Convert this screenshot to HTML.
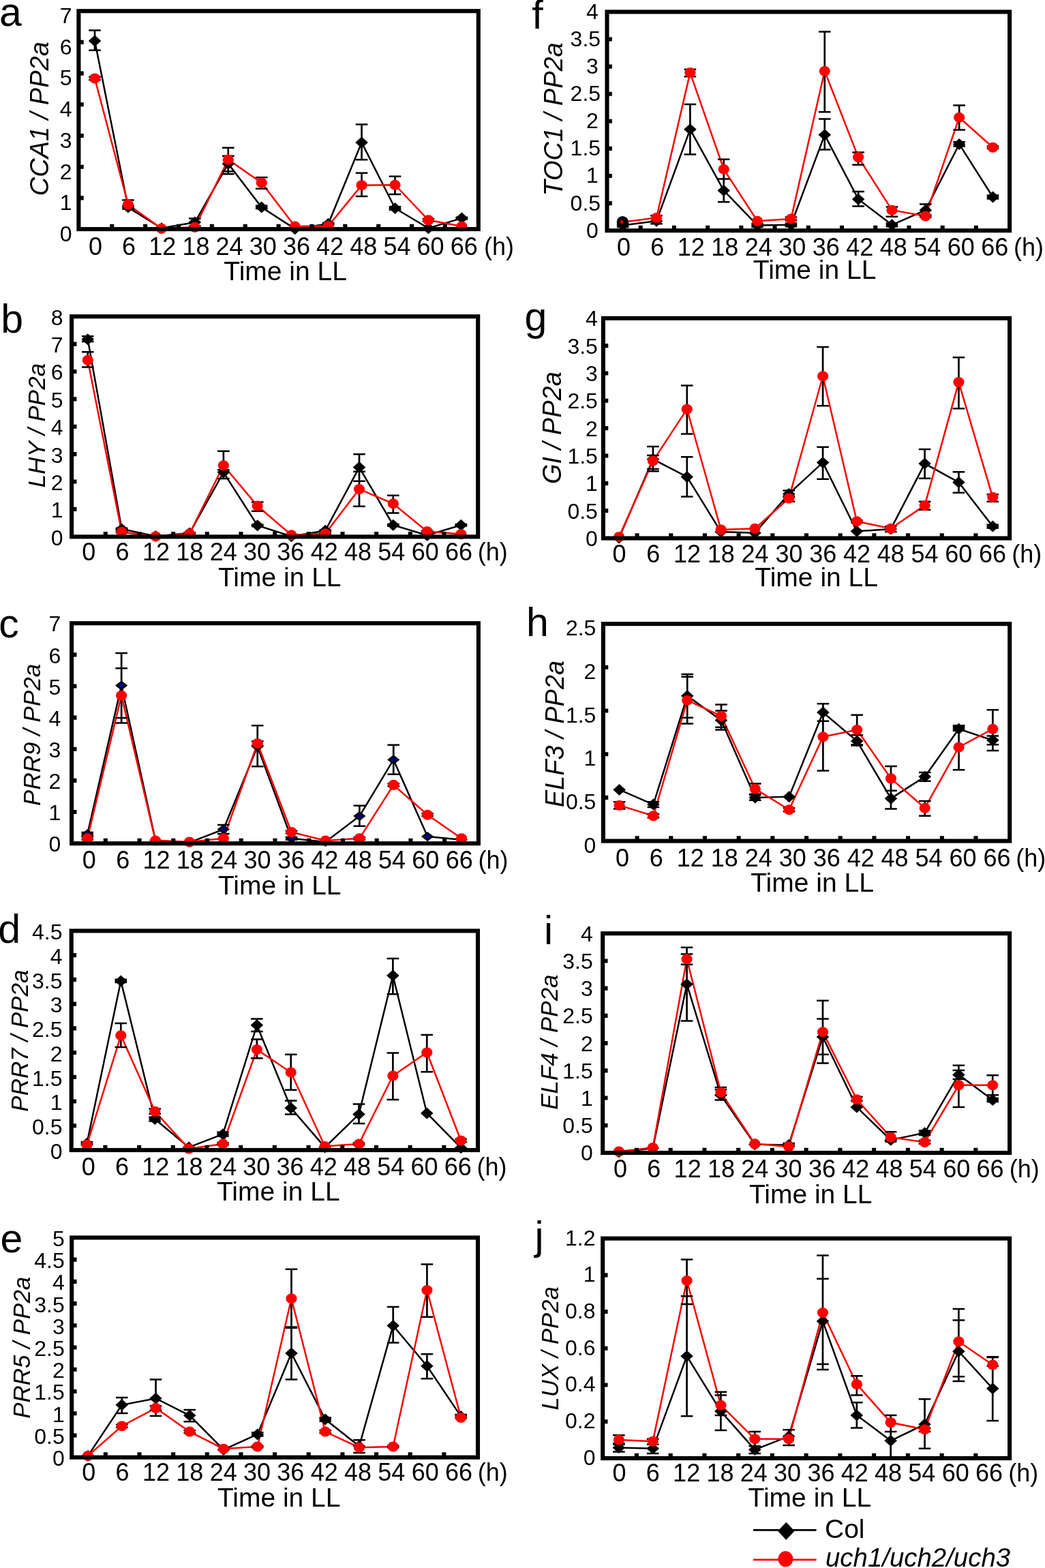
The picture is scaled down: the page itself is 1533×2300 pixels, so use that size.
<!DOCTYPE html>
<html><head><meta charset="utf-8"><title>Figure</title>
<style>html,body{margin:0;padding:0;background:#fff;}svg{display:block;}</style>
</head><body>
<svg xmlns="http://www.w3.org/2000/svg" width="1533" height="2300" viewBox="0 0 1533 2300" font-family="'Liberation Sans', Arial, sans-serif" fill="#000">
<g>
<polyline points="139.03,60.07 187.97,304.11 236.91,334.73 285.85,326.05 334.79,240.13 383.73,304.11 432.67,335.64 481.61,328.33 530.55,209.05 579.49,305.48 628.43,334.73 677.37,320.11" fill="none" stroke="#000" stroke-width="2.5" stroke-linejoin="miter"/>
<polyline points="139.03,114.91 187.97,300 236.91,335.19 285.85,333.36 334.79,234.19 383.73,268.01 432.67,331.99 481.61,331.53 530.55,271.66 579.49,271.21 628.43,322.85 677.37,331.99" fill="none" stroke="#f00" stroke-width="2.5" stroke-linejoin="miter"/>
<path d="M139.03 44.53V73.78M187.97 301.83V306.4M285.85 320.56V331.53M334.79 228.71V255.21M383.73 301.83V305.94M481.61 326.96V329.7M530.55 182.55V234.19M579.49 303.2V307.77M677.37 318.73V321.48M139.03 112.63V117.2M187.97 293.6V306.4M334.79 216.82V251.56M383.73 260.24V276.69M530.55 253.84V288.12M579.49 258.87V284.92M628.43 321.02V324.68" stroke="#000" stroke-width="2.7" fill="none"/>
<path d="M130.23 44.53H147.83M130.23 73.78H147.83M179.17 301.83H196.77M179.17 306.4H196.77M277.05 320.56H294.65M277.05 331.53H294.65M325.99 228.71H343.59M325.99 255.21H343.59M374.93 301.83H392.53M374.93 305.94H392.53M472.81 326.96H490.41M472.81 329.7H490.41M521.75 182.55H539.35M521.75 234.19H539.35M570.69 303.2H588.29M570.69 307.77H588.29M668.57 318.73H686.17M668.57 321.48H686.17M130.23 112.63H147.83M130.23 117.2H147.83M179.17 293.6H196.77M179.17 306.4H196.77M325.99 216.82H343.59M325.99 251.56H343.59M374.93 260.24H392.53M374.93 276.69H392.53M521.75 253.84H539.35M521.75 288.12H539.35M570.69 258.87H588.29M570.69 284.92H588.29M619.63 321.02H637.23M619.63 324.68H637.23" stroke="#000" stroke-width="2.5" fill="none"/>
<path d="M129.73 60.07L139.03 51.57L148.33 60.07L139.03 68.57Z" fill="#000"/>
<path d="M178.67 304.11L187.97 295.61L197.27 304.11L187.97 312.61Z" fill="#000"/>
<path d="M227.61 334.73L236.91 326.23L246.21 334.73L236.91 343.23Z" fill="#000"/>
<path d="M276.55 326.05L285.85 317.55L295.15 326.05L285.85 334.55Z" fill="#000"/>
<path d="M325.49 240.13L334.79 231.63L344.09 240.13L334.79 248.63Z" fill="#000"/>
<path d="M374.43 304.11L383.73 295.61L393.03 304.11L383.73 312.61Z" fill="#000"/>
<path d="M423.37 335.64L432.67 327.14L441.97 335.64L432.67 344.14Z" fill="#000"/>
<path d="M472.31 328.33L481.61 319.83L490.91 328.33L481.61 336.83Z" fill="#000"/>
<path d="M521.25 209.05L530.55 200.55L539.85 209.05L530.55 217.55Z" fill="#000"/>
<path d="M570.19 305.48L579.49 296.98L588.79 305.48L579.49 313.98Z" fill="#000"/>
<path d="M619.13 334.73L628.43 326.23L637.73 334.73L628.43 343.23Z" fill="#000"/>
<path d="M668.07 320.11L677.37 311.61L686.67 320.11L677.37 328.61Z" fill="#000"/>
<ellipse cx="139.03" cy="114.91" rx="8.1" ry="7.5" fill="#f00"/>
<ellipse cx="187.97" cy="300" rx="8.1" ry="7.5" fill="#f00"/>
<ellipse cx="236.91" cy="335.19" rx="8.1" ry="7.5" fill="#f00"/>
<ellipse cx="285.85" cy="333.36" rx="8.1" ry="7.5" fill="#f00"/>
<ellipse cx="334.79" cy="234.19" rx="8.1" ry="7.5" fill="#f00"/>
<ellipse cx="383.73" cy="268.01" rx="8.1" ry="7.5" fill="#f00"/>
<ellipse cx="432.67" cy="331.99" rx="8.1" ry="7.5" fill="#f00"/>
<ellipse cx="481.61" cy="331.53" rx="8.1" ry="7.5" fill="#f00"/>
<ellipse cx="530.55" cy="271.66" rx="8.1" ry="7.5" fill="#f00"/>
<ellipse cx="579.49" cy="271.21" rx="8.1" ry="7.5" fill="#f00"/>
<ellipse cx="628.43" cy="322.85" rx="8.1" ry="7.5" fill="#f00"/>
<ellipse cx="677.37" cy="331.99" rx="8.1" ry="7.5" fill="#f00"/>
<path d="M115.4 290.4H122.75M115.4 244.7H122.75M115.4 199H122.75M115.4 153.3H122.75M115.4 107.6H122.75M115.4 61.9H122.75M164.27 336.1V328.75M213.13 336.1V328.75M262 336.1V328.75M310.87 336.1V328.75M359.73 336.1V328.75M408.6 336.1V328.75M457.47 336.1V328.75M506.33 336.1V328.75M555.2 336.1V328.75M604.07 336.1V328.75M652.93 336.1V328.75" stroke="#000" stroke-width="6.1" fill="none"/>
<rect x="115.4" y="16.2" width="586.4" height="319.9" fill="none" stroke="#000" stroke-width="6.1"/>
<text x="105.5" y="353.96" text-anchor="end" font-size="32">0</text>
<text x="105.5" y="308.26" text-anchor="end" font-size="32">1</text>
<text x="105.5" y="262.56" text-anchor="end" font-size="32">2</text>
<text x="105.5" y="216.86" text-anchor="end" font-size="32">3</text>
<text x="105.5" y="171.16" text-anchor="end" font-size="32">4</text>
<text x="105.5" y="125.46" text-anchor="end" font-size="32">5</text>
<text x="105.5" y="79.76" text-anchor="end" font-size="32">6</text>
<text x="105.5" y="34.06" text-anchor="end" font-size="32">7</text>
<text x="139.9" y="373.6" text-anchor="middle" font-size="36">0</text>
<text x="189.07" y="373.6" text-anchor="middle" font-size="36">6</text>
<text x="238.25" y="373.6" text-anchor="middle" font-size="36">12</text>
<text x="287.42" y="373.6" text-anchor="middle" font-size="36">18</text>
<text x="336.59" y="373.6" text-anchor="middle" font-size="36">24</text>
<text x="385.76" y="373.6" text-anchor="middle" font-size="36">30</text>
<text x="434.94" y="373.6" text-anchor="middle" font-size="36">36</text>
<text x="484.11" y="373.6" text-anchor="middle" font-size="36">42</text>
<text x="533.28" y="373.6" text-anchor="middle" font-size="36">48</text>
<text x="582.45" y="373.6" text-anchor="middle" font-size="36">54</text>
<text x="631.63" y="373.6" text-anchor="middle" font-size="36">60</text>
<text x="680.8" y="373.6" text-anchor="middle" font-size="36">66</text>
<text x="710" y="373.6" font-size="36">(h)</text>
<text x="418.6" y="410.6" text-anchor="middle" font-size="39">Time in LL</text>
<text transform="translate(70.8 174.2) rotate(-90)" text-anchor="middle" font-size="38" font-style="italic">CCA1 / PP2a</text>
<text x="-1" y="37.5" font-size="59">a</text>
</g>
<g>
<polyline points="128.74,497.67 178.52,775.91 228.31,786.4 278.09,781.96 327.87,692.84 377.66,770.67 427.44,786.8 477.23,778.33 527.01,685.58 576.79,770.27 626.58,785.19 676.36,770.27" fill="none" stroke="#000" stroke-width="2.5" stroke-linejoin="miter"/>
<polyline points="128.74,528.32 178.52,780.35 228.31,786.8 278.09,782.77 327.87,682.76 377.66,742.04 427.44,784.78 477.23,782.77 527.01,717.44 576.79,738.81 626.58,779.54 676.36,783.57" fill="none" stroke="#f00" stroke-width="2.5" stroke-linejoin="miter"/>
<path d="M128.74 493.23V500.9M178.52 774.7V777.12M278.09 781.15V782.77M327.87 689.21V702.12M377.66 769.46V771.88M477.23 777.53V779.14M527.01 666.23V705.75M576.79 769.06V771.48M676.36 769.06V771.48M128.74 516.22V538.4M178.52 779.54V781.15M278.09 781.96V783.57M327.87 661.79V689.21M377.66 736.39V749.7M477.23 781.96V783.57M527.01 691.63V742.85M576.79 726.72V752.52M626.58 778.73V780.35" stroke="#000" stroke-width="2.7" fill="none"/>
<path d="M119.94 493.23H137.54M119.94 500.9H137.54M169.72 774.7H187.32M169.72 777.12H187.32M269.29 781.15H286.89M269.29 782.77H286.89M319.07 689.21H336.67M319.07 702.12H336.67M368.86 769.46H386.46M368.86 771.88H386.46M468.43 777.53H486.03M468.43 779.14H486.03M518.21 666.23H535.81M518.21 705.75H535.81M567.99 769.06H585.59M567.99 771.48H585.59M667.56 769.06H685.16M667.56 771.48H685.16M119.94 516.22H137.54M119.94 538.4H137.54M169.72 779.54H187.32M169.72 781.15H187.32M269.29 781.96H286.89M269.29 783.57H286.89M319.07 661.79H336.67M319.07 689.21H336.67M368.86 736.39H386.46M368.86 749.7H386.46M468.43 781.96H486.03M468.43 783.57H486.03M518.21 691.63H535.81M518.21 742.85H535.81M567.99 726.72H585.59M567.99 752.52H585.59M617.78 778.73H635.38M617.78 780.35H635.38" stroke="#000" stroke-width="2.5" fill="none"/>
<path d="M119.44 497.67L128.74 489.17L138.04 497.67L128.74 506.17Z" fill="#000"/>
<path d="M169.22 775.91L178.52 767.41L187.82 775.91L178.52 784.41Z" fill="#000"/>
<path d="M219.01 786.4L228.31 777.9L237.61 786.4L228.31 794.9Z" fill="#000"/>
<path d="M268.79 781.96L278.09 773.46L287.39 781.96L278.09 790.46Z" fill="#000"/>
<path d="M318.57 692.84L327.87 684.34L337.17 692.84L327.87 701.34Z" fill="#000"/>
<path d="M368.36 770.67L377.66 762.17L386.96 770.67L377.66 779.17Z" fill="#000"/>
<path d="M418.14 786.8L427.44 778.3L436.74 786.8L427.44 795.3Z" fill="#000"/>
<path d="M467.93 778.33L477.23 769.83L486.53 778.33L477.23 786.83Z" fill="#000"/>
<path d="M517.71 685.58L527.01 677.08L536.31 685.58L527.01 694.08Z" fill="#000"/>
<path d="M567.49 770.27L576.79 761.77L586.09 770.27L576.79 778.77Z" fill="#000"/>
<path d="M617.28 785.19L626.58 776.69L635.88 785.19L626.58 793.69Z" fill="#000"/>
<path d="M667.06 770.27L676.36 761.77L685.66 770.27L676.36 778.77Z" fill="#000"/>
<ellipse cx="128.74" cy="528.32" rx="8.1" ry="7.5" fill="#f00"/>
<ellipse cx="178.52" cy="780.35" rx="8.1" ry="7.5" fill="#f00"/>
<ellipse cx="228.31" cy="786.8" rx="8.1" ry="7.5" fill="#f00"/>
<ellipse cx="278.09" cy="782.77" rx="8.1" ry="7.5" fill="#f00"/>
<ellipse cx="327.87" cy="682.76" rx="8.1" ry="7.5" fill="#f00"/>
<ellipse cx="377.66" cy="742.04" rx="8.1" ry="7.5" fill="#f00"/>
<ellipse cx="427.44" cy="784.78" rx="8.1" ry="7.5" fill="#f00"/>
<ellipse cx="477.23" cy="782.77" rx="8.1" ry="7.5" fill="#f00"/>
<ellipse cx="527.01" cy="717.44" rx="8.1" ry="7.5" fill="#f00"/>
<ellipse cx="576.79" cy="738.81" rx="8.1" ry="7.5" fill="#f00"/>
<ellipse cx="626.58" cy="779.54" rx="8.1" ry="7.5" fill="#f00"/>
<ellipse cx="676.36" cy="783.57" rx="8.1" ry="7.5" fill="#f00"/>
<path d="M105.1 746.91H112.45M105.1 706.52H112.45M105.1 666.14H112.45M105.1 625.75H112.45M105.1 585.36H112.45M105.1 544.97H112.45M105.1 504.59H112.45M154.78 787.3V779.95M204.45 787.3V779.95M254.12 787.3V779.95M303.8 787.3V779.95M353.48 787.3V779.95M403.15 787.3V779.95M452.83 787.3V779.95M502.5 787.3V779.95M552.18 787.3V779.95M601.85 787.3V779.95M651.53 787.3V779.95" stroke="#000" stroke-width="6.1" fill="none"/>
<rect x="105.1" y="464.2" width="596.1" height="323.1" fill="none" stroke="#000" stroke-width="6.1"/>
<text x="92.5" y="799.76" text-anchor="end" font-size="32">0</text>
<text x="92.5" y="759.37" text-anchor="end" font-size="32">1</text>
<text x="92.5" y="718.98" text-anchor="end" font-size="32">2</text>
<text x="92.5" y="678.59" text-anchor="end" font-size="32">3</text>
<text x="92.5" y="638.21" text-anchor="end" font-size="32">4</text>
<text x="92.5" y="597.82" text-anchor="end" font-size="32">5</text>
<text x="92.5" y="557.43" text-anchor="end" font-size="32">6</text>
<text x="92.5" y="517.04" text-anchor="end" font-size="32">7</text>
<text x="92.5" y="476.66" text-anchor="end" font-size="32">8</text>
<text x="130.3" y="822.2" text-anchor="middle" font-size="36">0</text>
<text x="179.64" y="822.2" text-anchor="middle" font-size="36">6</text>
<text x="228.97" y="822.2" text-anchor="middle" font-size="36">12</text>
<text x="278.31" y="822.2" text-anchor="middle" font-size="36">18</text>
<text x="327.65" y="822.2" text-anchor="middle" font-size="36">24</text>
<text x="376.98" y="822.2" text-anchor="middle" font-size="36">30</text>
<text x="426.32" y="822.2" text-anchor="middle" font-size="36">36</text>
<text x="475.65" y="822.2" text-anchor="middle" font-size="36">42</text>
<text x="524.99" y="822.2" text-anchor="middle" font-size="36">48</text>
<text x="574.33" y="822.2" text-anchor="middle" font-size="36">54</text>
<text x="623.66" y="822.2" text-anchor="middle" font-size="36">60</text>
<text x="673" y="822.2" text-anchor="middle" font-size="36">66</text>
<text x="700.8" y="822.2" font-size="36">(h)</text>
<text x="410.25" y="859.5" text-anchor="middle" font-size="39">Time in LL</text>
<text transform="translate(66.1 624) rotate(-90)" text-anchor="middle" font-size="35" font-style="italic">LHY / PP2a</text>
<text x="1.25" y="487.5" font-size="59">b</text>
</g>
<g>
<polyline points="128.27,1223.36 178.15,1005.56 228.04,1232.59 277.93,1235.82 327.82,1216.44 377.71,1095.08 427.59,1229.82 477.48,1234.89 527.37,1197.06 577.26,1114.46 627.15,1227.05 677.03,1231.66" fill="none" stroke="#000" stroke-width="2.5" stroke-linejoin="miter"/>
<polyline points="128.27,1229.82 178.15,1020.33 228.04,1233.05 277.93,1234.89 327.82,1229.82 377.71,1090.47 427.59,1220.59 477.48,1233.05 527.37,1229.82 577.26,1151.37 627.15,1195.21 677.03,1229.82" fill="none" stroke="#f00" stroke-width="2.5" stroke-linejoin="miter"/>
<path d="M128.27 1221.05V1225.66M178.15 958.04V1053.09M327.82 1209.98V1222.9M377.71 1064.16V1124.15M427.59 1227.97V1231.66M527.37 1181.83V1211.82M577.26 1092.77V1135.69M128.27 1227.97V1231.66M178.15 980.18V1060.47M327.82 1223.36V1236.28M377.71 1087.24V1093.7M427.59 1218.74V1222.43M527.37 1227.97V1231.66M577.26 1149.53V1153.22M627.15 1193.36V1197.06" stroke="#000" stroke-width="2.7" fill="none"/>
<path d="M119.47 1221.05H137.07M119.47 1225.66H137.07M169.35 958.04H186.95M169.35 1053.09H186.95M319.02 1209.98H336.62M319.02 1222.9H336.62M368.91 1064.16H386.51M368.91 1124.15H386.51M418.79 1227.97H436.39M418.79 1231.66H436.39M518.57 1181.83H536.17M518.57 1211.82H536.17M568.46 1092.77H586.06M568.46 1135.69H586.06M119.47 1227.97H137.07M119.47 1231.66H137.07M169.35 980.18H186.95M169.35 1060.47H186.95M319.02 1223.36H336.62M319.02 1236.28H336.62M368.91 1087.24H386.51M368.91 1093.7H386.51M418.79 1218.74H436.39M418.79 1222.43H436.39M518.57 1227.97H536.17M518.57 1231.66H536.17M568.46 1149.53H586.06M568.46 1153.22H586.06M618.35 1193.36H635.95M618.35 1197.06H635.95" stroke="#000" stroke-width="2.5" fill="none"/>
<path d="M121.07 1223.36L128.27 1217.76L135.47 1223.36L128.27 1228.96Z" fill="#000080" stroke="#000" stroke-width="2.4"/>
<path d="M170.95 1005.56L178.15 999.96L185.35 1005.56L178.15 1011.16Z" fill="#000080" stroke="#000" stroke-width="2.4"/>
<path d="M220.84 1232.59L228.04 1226.99L235.24 1232.59L228.04 1238.19Z" fill="#000080" stroke="#000" stroke-width="2.4"/>
<path d="M270.73 1235.82L277.93 1230.22L285.13 1235.82L277.93 1241.42Z" fill="#000080" stroke="#000" stroke-width="2.4"/>
<path d="M320.62 1216.44L327.82 1210.84L335.02 1216.44L327.82 1222.04Z" fill="#000080" stroke="#000" stroke-width="2.4"/>
<path d="M370.51 1095.08L377.71 1089.48L384.91 1095.08L377.71 1100.68Z" fill="#000080" stroke="#000" stroke-width="2.4"/>
<path d="M420.39 1229.82L427.59 1224.22L434.79 1229.82L427.59 1235.42Z" fill="#000080" stroke="#000" stroke-width="2.4"/>
<path d="M470.28 1234.89L477.48 1229.29L484.68 1234.89L477.48 1240.49Z" fill="#000080" stroke="#000" stroke-width="2.4"/>
<path d="M520.17 1197.06L527.37 1191.46L534.57 1197.06L527.37 1202.66Z" fill="#000080" stroke="#000" stroke-width="2.4"/>
<path d="M570.06 1114.46L577.26 1108.86L584.46 1114.46L577.26 1120.06Z" fill="#000080" stroke="#000" stroke-width="2.4"/>
<path d="M619.95 1227.05L627.15 1221.45L634.35 1227.05L627.15 1232.65Z" fill="#000080" stroke="#000" stroke-width="2.4"/>
<path d="M669.83 1231.66L677.03 1226.06L684.23 1231.66L677.03 1237.26Z" fill="#000080" stroke="#000" stroke-width="2.4"/>
<ellipse cx="128.27" cy="1229.82" rx="8.1" ry="7.5" fill="#f00"/>
<ellipse cx="178.15" cy="1020.33" rx="8.1" ry="7.5" fill="#f00"/>
<ellipse cx="228.04" cy="1233.05" rx="8.1" ry="7.5" fill="#f00"/>
<ellipse cx="277.93" cy="1234.89" rx="8.1" ry="7.5" fill="#f00"/>
<ellipse cx="327.82" cy="1229.82" rx="8.1" ry="7.5" fill="#f00"/>
<ellipse cx="377.71" cy="1090.47" rx="8.1" ry="7.5" fill="#f00"/>
<ellipse cx="427.59" cy="1220.59" rx="8.1" ry="7.5" fill="#f00"/>
<ellipse cx="477.48" cy="1233.05" rx="8.1" ry="7.5" fill="#f00"/>
<ellipse cx="527.37" cy="1229.82" rx="8.1" ry="7.5" fill="#f00"/>
<ellipse cx="577.26" cy="1151.37" rx="8.1" ry="7.5" fill="#f00"/>
<ellipse cx="627.15" cy="1195.21" rx="8.1" ry="7.5" fill="#f00"/>
<ellipse cx="677.03" cy="1229.82" rx="8.1" ry="7.5" fill="#f00"/>
<path d="M105.1 1191.06H112.45M105.1 1144.91H112.45M105.1 1098.77H112.45M105.1 1052.63H112.45M105.1 1006.49H112.45M105.1 960.34H112.45M154.83 1237.2V1229.85M204.57 1237.2V1229.85M254.3 1237.2V1229.85M304.03 1237.2V1229.85M353.77 1237.2V1229.85M403.5 1237.2V1229.85M453.23 1237.2V1229.85M502.97 1237.2V1229.85M552.7 1237.2V1229.85M602.43 1237.2V1229.85M652.17 1237.2V1229.85" stroke="#000" stroke-width="6.1" fill="none"/>
<rect x="105.1" y="914.2" width="596.8" height="323" fill="none" stroke="#000" stroke-width="6.1"/>
<text x="89.3" y="1249.46" text-anchor="end" font-size="32">0</text>
<text x="89.3" y="1203.31" text-anchor="end" font-size="32">1</text>
<text x="89.3" y="1157.17" text-anchor="end" font-size="32">2</text>
<text x="89.3" y="1111.03" text-anchor="end" font-size="32">3</text>
<text x="89.3" y="1064.88" text-anchor="end" font-size="32">4</text>
<text x="89.3" y="1018.74" text-anchor="end" font-size="32">5</text>
<text x="89.3" y="972.6" text-anchor="end" font-size="32">6</text>
<text x="89.3" y="926.46" text-anchor="end" font-size="32">7</text>
<text x="130.8" y="1274.2" text-anchor="middle" font-size="36">0</text>
<text x="180.15" y="1274.2" text-anchor="middle" font-size="36">6</text>
<text x="229.51" y="1274.2" text-anchor="middle" font-size="36">12</text>
<text x="278.86" y="1274.2" text-anchor="middle" font-size="36">18</text>
<text x="328.22" y="1274.2" text-anchor="middle" font-size="36">24</text>
<text x="377.57" y="1274.2" text-anchor="middle" font-size="36">30</text>
<text x="426.93" y="1274.2" text-anchor="middle" font-size="36">36</text>
<text x="476.28" y="1274.2" text-anchor="middle" font-size="36">42</text>
<text x="525.64" y="1274.2" text-anchor="middle" font-size="36">48</text>
<text x="574.99" y="1274.2" text-anchor="middle" font-size="36">54</text>
<text x="624.35" y="1274.2" text-anchor="middle" font-size="36">60</text>
<text x="673.7" y="1274.2" text-anchor="middle" font-size="36">66</text>
<text x="701.5" y="1274.2" font-size="36">(h)</text>
<text x="410.25" y="1311.7" text-anchor="middle" font-size="39">Time in LL</text>
<text transform="translate(58.5 1077.85) rotate(-90)" text-anchor="middle" font-size="35" font-style="italic">PRR9 / PP2a</text>
<text x="-1.85" y="935" font-size="59">c</text>
</g>
<g>
<polyline points="127.45,1677.22 177.33,1438.9 227.21,1641.55 277.09,1682.93 326.98,1663.67 376.86,1503.83 426.74,1625.13 476.62,1682.93 526.51,1634.41 576.39,1431.05 626.27,1632.98 676.15,1683.65" fill="none" stroke="#000" stroke-width="2.5" stroke-linejoin="miter"/>
<polyline points="127.45,1679.36 177.33,1518.81 227.21,1630.13 277.09,1685.07 326.98,1677.94 376.86,1539.51 426.74,1573.04 476.62,1681.51 526.51,1677.94 576.39,1578.04 626.27,1543.79 676.15,1672.94" fill="none" stroke="#f00" stroke-width="2.5" stroke-linejoin="miter"/>
<path d="M127.45 1675.08V1679.36M177.33 1436.76V1441.04M227.21 1638.69V1644.4M326.98 1660.81V1666.52M376.86 1494.55V1513.11M426.74 1614.43V1634.41M526.51 1619.43V1647.97M576.39 1406.07V1458.16M177.33 1500.98V1535.94M227.21 1626.56V1633.7M326.98 1676.51V1679.36M376.86 1524.52V1552.35M426.74 1546.64V1598.73M526.51 1676.51V1679.36M576.39 1544.5V1613M626.27 1518.1V1572.33M676.15 1670.8V1675.08" stroke="#000" stroke-width="2.7" fill="none"/>
<path d="M118.65 1675.08H136.25M118.65 1679.36H136.25M168.53 1436.76H186.13M168.53 1441.04H186.13M218.41 1638.69H236.01M218.41 1644.4H236.01M318.18 1660.81H335.78M318.18 1666.52H335.78M368.06 1494.55H385.66M368.06 1513.11H385.66M417.94 1614.43H435.54M417.94 1634.41H435.54M517.71 1619.43H535.31M517.71 1647.97H535.31M567.59 1406.07H585.19M567.59 1458.16H585.19M168.53 1500.98H186.13M168.53 1535.94H186.13M218.41 1626.56H236.01M218.41 1633.7H236.01M318.18 1676.51H335.78M318.18 1679.36H335.78M368.06 1524.52H385.66M368.06 1552.35H385.66M417.94 1546.64H435.54M417.94 1598.73H435.54M517.71 1676.51H535.31M517.71 1679.36H535.31M567.59 1544.5H585.19M567.59 1613H585.19M617.47 1518.1H635.07M617.47 1572.33H635.07M667.35 1670.8H684.95M667.35 1675.08H684.95" stroke="#000" stroke-width="2.5" fill="none"/>
<path d="M118.15 1677.22L127.45 1668.72L136.75 1677.22L127.45 1685.72Z" fill="#000"/>
<path d="M168.03 1438.9L177.33 1430.4L186.63 1438.9L177.33 1447.4Z" fill="#000"/>
<path d="M217.91 1641.55L227.21 1633.05L236.51 1641.55L227.21 1650.05Z" fill="#000"/>
<path d="M267.79 1682.93L277.09 1674.43L286.39 1682.93L277.09 1691.43Z" fill="#000"/>
<path d="M317.68 1663.67L326.98 1655.17L336.28 1663.67L326.98 1672.17Z" fill="#000"/>
<path d="M367.56 1503.83L376.86 1495.33L386.16 1503.83L376.86 1512.33Z" fill="#000"/>
<path d="M417.44 1625.13L426.74 1616.63L436.04 1625.13L426.74 1633.63Z" fill="#000"/>
<path d="M467.32 1682.93L476.62 1674.43L485.92 1682.93L476.62 1691.43Z" fill="#000"/>
<path d="M517.21 1634.41L526.51 1625.91L535.81 1634.41L526.51 1642.91Z" fill="#000"/>
<path d="M567.09 1431.05L576.39 1422.55L585.69 1431.05L576.39 1439.55Z" fill="#000"/>
<path d="M616.97 1632.98L626.27 1624.48L635.57 1632.98L626.27 1641.48Z" fill="#000"/>
<path d="M666.85 1683.65L676.15 1675.15L685.45 1683.65L676.15 1692.15Z" fill="#000"/>
<ellipse cx="127.45" cy="1679.36" rx="8.1" ry="7.5" fill="#f00"/>
<ellipse cx="177.33" cy="1518.81" rx="8.1" ry="7.5" fill="#f00"/>
<ellipse cx="227.21" cy="1630.13" rx="8.1" ry="7.5" fill="#f00"/>
<ellipse cx="277.09" cy="1685.07" rx="8.1" ry="7.5" fill="#f00"/>
<ellipse cx="326.98" cy="1677.94" rx="8.1" ry="7.5" fill="#f00"/>
<ellipse cx="376.86" cy="1539.51" rx="8.1" ry="7.5" fill="#f00"/>
<ellipse cx="426.74" cy="1573.04" rx="8.1" ry="7.5" fill="#f00"/>
<ellipse cx="476.62" cy="1681.51" rx="8.1" ry="7.5" fill="#f00"/>
<ellipse cx="526.51" cy="1677.94" rx="8.1" ry="7.5" fill="#f00"/>
<ellipse cx="576.39" cy="1578.04" rx="8.1" ry="7.5" fill="#f00"/>
<ellipse cx="626.27" cy="1543.79" rx="8.1" ry="7.5" fill="#f00"/>
<ellipse cx="676.15" cy="1672.94" rx="8.1" ry="7.5" fill="#f00"/>
<path d="M104.7 1651.27H112.05M104.7 1615.53H112.05M104.7 1579.8H112.05M104.7 1544.07H112.05M104.7 1508.33H112.05M104.7 1472.6H112.05M104.7 1436.87H112.05M104.7 1401.13H112.05M154.39 1687V1679.65M204.08 1687V1679.65M253.77 1687V1679.65M303.47 1687V1679.65M353.16 1687V1679.65M402.85 1687V1679.65M452.54 1687V1679.65M502.23 1687V1679.65M551.92 1687V1679.65M601.62 1687V1679.65M651.31 1687V1679.65" stroke="#000" stroke-width="6.1" fill="none"/>
<rect x="104.7" y="1365.4" width="596.3" height="321.6" fill="none" stroke="#000" stroke-width="6.1"/>
<text x="91.5" y="1699.76" text-anchor="end" font-size="32">0</text>
<text x="91.5" y="1664.02" text-anchor="end" font-size="32">0.5</text>
<text x="91.5" y="1628.29" text-anchor="end" font-size="32">1</text>
<text x="91.5" y="1592.56" text-anchor="end" font-size="32">1.5</text>
<text x="91.5" y="1556.82" text-anchor="end" font-size="32">2</text>
<text x="91.5" y="1521.09" text-anchor="end" font-size="32">2.5</text>
<text x="91.5" y="1485.36" text-anchor="end" font-size="32">3</text>
<text x="91.5" y="1449.62" text-anchor="end" font-size="32">3.5</text>
<text x="91.5" y="1413.89" text-anchor="end" font-size="32">4</text>
<text x="91.5" y="1378.16" text-anchor="end" font-size="32">4.5</text>
<text x="129.8" y="1723.9" text-anchor="middle" font-size="36">0</text>
<text x="179.07" y="1723.9" text-anchor="middle" font-size="36">6</text>
<text x="228.35" y="1723.9" text-anchor="middle" font-size="36">12</text>
<text x="277.62" y="1723.9" text-anchor="middle" font-size="36">18</text>
<text x="326.89" y="1723.9" text-anchor="middle" font-size="36">24</text>
<text x="376.16" y="1723.9" text-anchor="middle" font-size="36">30</text>
<text x="425.44" y="1723.9" text-anchor="middle" font-size="36">36</text>
<text x="474.71" y="1723.9" text-anchor="middle" font-size="36">42</text>
<text x="523.98" y="1723.9" text-anchor="middle" font-size="36">48</text>
<text x="573.25" y="1723.9" text-anchor="middle" font-size="36">54</text>
<text x="622.53" y="1723.9" text-anchor="middle" font-size="36">60</text>
<text x="671.8" y="1723.9" text-anchor="middle" font-size="36">66</text>
<text x="699.6" y="1723.9" font-size="36">(h)</text>
<text x="408.3" y="1761" text-anchor="middle" font-size="39">Time in LL</text>
<text transform="translate(40.7 1526.55) rotate(-90)" text-anchor="middle" font-size="35" font-style="italic">PRR7 / PP2a</text>
<text x="-2.85" y="1383" font-size="59">d</text>
</g>
<g>
<polyline points="129.03,2135.41 178.77,2060.87 228.51,2051.23 278.25,2076.3 327.99,2126.42 377.73,2103.93 427.47,1985.05 477.21,2082.08 526.95,2121.28 576.69,1944.56 626.43,2003.68 676.18,2077.58" fill="none" stroke="#000" stroke-width="2.5" stroke-linejoin="miter"/>
<polyline points="129.03,2135.41 178.77,2091.72 228.51,2065.37 278.25,2100.07 327.99,2125.13 377.73,2121.92 427.47,1904.72 477.21,2100.07 526.95,2123.21 576.69,2121.92 626.43,1892.51 676.18,2079.51" fill="none" stroke="#f00" stroke-width="2.5" stroke-linejoin="miter"/>
<path d="M178.77 2049.95V2073.08M228.51 2023.6V2076.94M278.25 2067.94V2085.29M377.73 2101.36V2106.5M427.47 1946.49V2023.6M477.21 2079.51V2084.65M526.95 2112.28V2130.92M576.69 1916.93V1969.62M626.43 1986.33V2022.32M676.18 2075.01V2080.15M178.77 2089.79V2093.65M228.51 2062.16V2068.58M278.25 2098.14V2102M377.73 2120.63V2123.21M427.47 1861.67V1947.78M477.21 2098.14V2102M576.69 2120.63V2123.21M626.43 1854.6V1931.71" stroke="#000" stroke-width="2.7" fill="none"/>
<path d="M169.97 2049.95H187.57M169.97 2073.08H187.57M219.71 2023.6H237.31M219.71 2076.94H237.31M269.45 2067.94H287.05M269.45 2085.29H287.05M368.93 2101.36H386.53M368.93 2106.5H386.53M418.67 1946.49H436.27M418.67 2023.6H436.27M468.41 2079.51H486.01M468.41 2084.65H486.01M518.15 2112.28H535.75M518.15 2130.92H535.75M567.89 1916.93H585.49M567.89 1969.62H585.49M617.63 1986.33H635.23M617.63 2022.32H635.23M667.38 2075.01H684.98M667.38 2080.15H684.98M169.97 2089.79H187.57M169.97 2093.65H187.57M219.71 2062.16H237.31M219.71 2068.58H237.31M269.45 2098.14H287.05M269.45 2102H287.05M368.93 2120.63H386.53M368.93 2123.21H386.53M418.67 1861.67H436.27M418.67 1947.78H436.27M468.41 2098.14H486.01M468.41 2102H486.01M567.89 2120.63H585.49M567.89 2123.21H585.49M617.63 1854.6H635.23M617.63 1931.71H635.23" stroke="#000" stroke-width="2.5" fill="none"/>
<path d="M119.73 2135.41L129.03 2126.91L138.33 2135.41L129.03 2143.91Z" fill="#000"/>
<path d="M169.47 2060.87L178.77 2052.37L188.07 2060.87L178.77 2069.37Z" fill="#000"/>
<path d="M219.21 2051.23L228.51 2042.73L237.81 2051.23L228.51 2059.73Z" fill="#000"/>
<path d="M268.95 2076.3L278.25 2067.8L287.55 2076.3L278.25 2084.8Z" fill="#000"/>
<path d="M318.69 2126.42L327.99 2117.92L337.29 2126.42L327.99 2134.92Z" fill="#000"/>
<path d="M368.43 2103.93L377.73 2095.43L387.03 2103.93L377.73 2112.43Z" fill="#000"/>
<path d="M418.17 1985.05L427.47 1976.55L436.77 1985.05L427.47 1993.55Z" fill="#000"/>
<path d="M467.91 2082.08L477.21 2073.58L486.51 2082.08L477.21 2090.58Z" fill="#000"/>
<path d="M517.65 2121.28L526.95 2112.78L536.25 2121.28L526.95 2129.78Z" fill="#000"/>
<path d="M567.39 1944.56L576.69 1936.06L585.99 1944.56L576.69 1953.06Z" fill="#000"/>
<path d="M617.13 2003.68L626.43 1995.18L635.73 2003.68L626.43 2012.18Z" fill="#000"/>
<path d="M666.88 2077.58L676.18 2069.08L685.48 2077.58L676.18 2086.08Z" fill="#000"/>
<ellipse cx="129.03" cy="2135.41" rx="8.1" ry="7.5" fill="#f00"/>
<ellipse cx="178.77" cy="2091.72" rx="8.1" ry="7.5" fill="#f00"/>
<ellipse cx="228.51" cy="2065.37" rx="8.1" ry="7.5" fill="#f00"/>
<ellipse cx="278.25" cy="2100.07" rx="8.1" ry="7.5" fill="#f00"/>
<ellipse cx="327.99" cy="2125.13" rx="8.1" ry="7.5" fill="#f00"/>
<ellipse cx="377.73" cy="2121.92" rx="8.1" ry="7.5" fill="#f00"/>
<ellipse cx="427.47" cy="1904.72" rx="8.1" ry="7.5" fill="#f00"/>
<ellipse cx="477.21" cy="2100.07" rx="8.1" ry="7.5" fill="#f00"/>
<ellipse cx="526.95" cy="2123.21" rx="8.1" ry="7.5" fill="#f00"/>
<ellipse cx="576.69" cy="2121.92" rx="8.1" ry="7.5" fill="#f00"/>
<ellipse cx="626.43" cy="1892.51" rx="8.1" ry="7.5" fill="#f00"/>
<ellipse cx="676.18" cy="2079.51" rx="8.1" ry="7.5" fill="#f00"/>
<path d="M105.2 2105.47H112.55M105.2 2073.24H112.55M105.2 2041.01H112.55M105.2 2008.78H112.55M105.2 1976.55H112.55M105.2 1944.32H112.55M105.2 1912.09H112.55M105.2 1879.86H112.55M105.2 1847.63H112.55M154.85 2137.7V2130.35M204.5 2137.7V2130.35M254.15 2137.7V2130.35M303.8 2137.7V2130.35M353.45 2137.7V2130.35M403.1 2137.7V2130.35M452.75 2137.7V2130.35M502.4 2137.7V2130.35M552.05 2137.7V2130.35M601.7 2137.7V2130.35M651.35 2137.7V2130.35" stroke="#000" stroke-width="6.1" fill="none"/>
<rect x="105.2" y="1815.4" width="595.8" height="322.3" fill="none" stroke="#000" stroke-width="6.1"/>
<text x="94.8" y="2150.16" text-anchor="end" font-size="32">0</text>
<text x="94.8" y="2117.93" text-anchor="end" font-size="32">0.5</text>
<text x="94.8" y="2085.7" text-anchor="end" font-size="32">1</text>
<text x="94.8" y="2053.47" text-anchor="end" font-size="32">1.5</text>
<text x="94.8" y="2021.24" text-anchor="end" font-size="32">2</text>
<text x="94.8" y="1989.01" text-anchor="end" font-size="32">2.5</text>
<text x="94.8" y="1956.78" text-anchor="end" font-size="32">3</text>
<text x="94.8" y="1924.55" text-anchor="end" font-size="32">3.5</text>
<text x="94.8" y="1892.32" text-anchor="end" font-size="32">4</text>
<text x="94.8" y="1860.09" text-anchor="end" font-size="32">4.5</text>
<text x="94.8" y="1827.86" text-anchor="end" font-size="32">5</text>
<text x="130.3" y="2171.9" text-anchor="middle" font-size="36">0</text>
<text x="179.64" y="2171.9" text-anchor="middle" font-size="36">6</text>
<text x="228.97" y="2171.9" text-anchor="middle" font-size="36">12</text>
<text x="278.31" y="2171.9" text-anchor="middle" font-size="36">18</text>
<text x="327.65" y="2171.9" text-anchor="middle" font-size="36">24</text>
<text x="376.98" y="2171.9" text-anchor="middle" font-size="36">30</text>
<text x="426.32" y="2171.9" text-anchor="middle" font-size="36">36</text>
<text x="475.65" y="2171.9" text-anchor="middle" font-size="36">42</text>
<text x="524.99" y="2171.9" text-anchor="middle" font-size="36">48</text>
<text x="574.33" y="2171.9" text-anchor="middle" font-size="36">54</text>
<text x="623.66" y="2171.9" text-anchor="middle" font-size="36">60</text>
<text x="673" y="2171.9" text-anchor="middle" font-size="36">66</text>
<text x="700.8" y="2171.9" font-size="36">(h)</text>
<text x="409.2" y="2209.5" text-anchor="middle" font-size="39">Time in LL</text>
<text transform="translate(44.4 1976.75) rotate(-90)" text-anchor="middle" font-size="35" font-style="italic">PRR5 / PP2a</text>
<text x="0.5" y="1837" font-size="59">e</text>
</g>
<g>
<polyline points="913.71,330.6 963.05,324.2 1012.4,189.8 1061.74,279.4 1111.08,330.6 1160.43,329.8 1209.77,197.8 1259.12,292.2 1308.46,329.8 1357.8,308.2 1407.15,211.4 1456.49,289" fill="none" stroke="#000" stroke-width="2.5" stroke-linejoin="miter"/>
<polyline points="913.71,325.8 963.05,319.4 1012.4,106.6 1061.74,248.2 1111.08,324.2 1160.43,321 1209.77,104.2 1259.12,230.6 1308.46,308.2 1357.8,317 1407.15,172.2 1456.49,216.2" fill="none" stroke="#f00" stroke-width="2.5" stroke-linejoin="miter"/>
<path d="M913.71 328.2V333M963.05 316.2V328.2M1012.4 153V226.6M1061.74 262.6V296.2M1111.08 328.2V333M1160.43 327.4V332.2M1209.77 174.6V219.4M1259.12 281V302.6M1308.46 327.4V332.2M1357.8 299.4V317M1407.15 208.2V214.6M1456.49 286.6V291.4M1012.4 101.8V112.2M1061.74 233.8V262.6M1160.43 318.6V323.4M1209.77 46.6V164.2M1259.12 223.4V241.8M1308.46 303.4V317.8M1357.8 315.4V318.6M1407.15 154.6V190.6M1456.49 214.6V217.8" stroke="#000" stroke-width="2.7" fill="none"/>
<path d="M904.91 328.2H922.51M904.91 333H922.51M954.25 316.2H971.85M954.25 328.2H971.85M1003.6 153H1021.2M1003.6 226.6H1021.2M1052.94 262.6H1070.54M1052.94 296.2H1070.54M1102.28 328.2H1119.88M1102.28 333H1119.88M1151.63 327.4H1169.23M1151.63 332.2H1169.23M1200.97 174.6H1218.57M1200.97 219.4H1218.57M1250.32 281H1267.92M1250.32 302.6H1267.92M1299.66 327.4H1317.26M1299.66 332.2H1317.26M1349 299.4H1366.6M1349 317H1366.6M1398.35 208.2H1415.95M1398.35 214.6H1415.95M1447.69 286.6H1465.29M1447.69 291.4H1465.29M1003.6 101.8H1021.2M1003.6 112.2H1021.2M1052.94 233.8H1070.54M1052.94 262.6H1070.54M1151.63 318.6H1169.23M1151.63 323.4H1169.23M1200.97 46.6H1218.57M1200.97 164.2H1218.57M1250.32 223.4H1267.92M1250.32 241.8H1267.92M1299.66 303.4H1317.26M1299.66 317.8H1317.26M1349 315.4H1366.6M1349 318.6H1366.6M1398.35 154.6H1415.95M1398.35 190.6H1415.95M1447.69 214.6H1465.29M1447.69 217.8H1465.29" stroke="#000" stroke-width="2.5" fill="none"/>
<path d="M904.41 330.6L913.71 322.1L923.01 330.6L913.71 339.1Z" fill="#000"/>
<path d="M953.75 324.2L963.05 315.7L972.35 324.2L963.05 332.7Z" fill="#000"/>
<path d="M1003.1 189.8L1012.4 181.3L1021.7 189.8L1012.4 198.3Z" fill="#000"/>
<path d="M1052.44 279.4L1061.74 270.9L1071.04 279.4L1061.74 287.9Z" fill="#000"/>
<path d="M1101.78 330.6L1111.08 322.1L1120.38 330.6L1111.08 339.1Z" fill="#000"/>
<path d="M1151.13 329.8L1160.43 321.3L1169.73 329.8L1160.43 338.3Z" fill="#000"/>
<path d="M1200.47 197.8L1209.77 189.3L1219.07 197.8L1209.77 206.3Z" fill="#000"/>
<path d="M1249.82 292.2L1259.12 283.7L1268.42 292.2L1259.12 300.7Z" fill="#000"/>
<path d="M1299.16 329.8L1308.46 321.3L1317.76 329.8L1308.46 338.3Z" fill="#000"/>
<path d="M1348.5 308.2L1357.8 299.7L1367.1 308.2L1357.8 316.7Z" fill="#000"/>
<path d="M1397.85 211.4L1407.15 202.9L1416.45 211.4L1407.15 219.9Z" fill="#000"/>
<path d="M1447.19 289L1456.49 280.5L1465.79 289L1456.49 297.5Z" fill="#000"/>
<ellipse cx="913.71" cy="325.8" rx="8.1" ry="7.5" fill="#f00"/>
<ellipse cx="963.05" cy="319.4" rx="8.1" ry="7.5" fill="#f00"/>
<ellipse cx="1012.4" cy="106.6" rx="8.1" ry="7.5" fill="#f00"/>
<ellipse cx="1061.74" cy="248.2" rx="8.1" ry="7.5" fill="#f00"/>
<ellipse cx="1111.08" cy="324.2" rx="8.1" ry="7.5" fill="#f00"/>
<ellipse cx="1160.43" cy="321" rx="8.1" ry="7.5" fill="#f00"/>
<ellipse cx="1209.77" cy="104.2" rx="8.1" ry="7.5" fill="#f00"/>
<ellipse cx="1259.12" cy="230.6" rx="8.1" ry="7.5" fill="#f00"/>
<ellipse cx="1308.46" cy="308.2" rx="8.1" ry="7.5" fill="#f00"/>
<ellipse cx="1357.8" cy="317" rx="8.1" ry="7.5" fill="#f00"/>
<ellipse cx="1407.15" cy="172.2" rx="8.1" ry="7.5" fill="#f00"/>
<ellipse cx="1456.49" cy="216.2" rx="8.1" ry="7.5" fill="#f00"/>
<circle cx="913.3" cy="325.5" r="8.6" fill="#000"/>
<ellipse cx="912" cy="325.5" rx="2.2" ry="2.6" fill="#f00"/>
<path d="M890.5 298.1H897.85M890.5 258H897.85M890.5 217.9H897.85M890.5 177.8H897.85M890.5 137.7H897.85M890.5 97.6H897.85M890.5 57.5H897.85M939.72 338.2V330.85M988.93 338.2V330.85M1038.15 338.2V330.85M1087.37 338.2V330.85M1136.58 338.2V330.85M1185.8 338.2V330.85M1235.02 338.2V330.85M1284.23 338.2V330.85M1333.45 338.2V330.85M1382.67 338.2V330.85M1431.88 338.2V330.85" stroke="#000" stroke-width="6.1" fill="none"/>
<rect x="890.5" y="17.4" width="590.6" height="320.8" fill="none" stroke="#000" stroke-width="6.1"/>
<text x="877.7" y="348.66" text-anchor="end" font-size="32">0</text>
<text x="881.1" y="308.56" text-anchor="end" font-size="32">0.5</text>
<text x="877.7" y="268.46" text-anchor="end" font-size="32">1</text>
<text x="881.1" y="228.36" text-anchor="end" font-size="32">1.5</text>
<text x="877.7" y="188.26" text-anchor="end" font-size="32">2</text>
<text x="881.1" y="148.16" text-anchor="end" font-size="32">2.5</text>
<text x="877.7" y="108.06" text-anchor="end" font-size="32">3</text>
<text x="881.1" y="67.96" text-anchor="end" font-size="32">3.5</text>
<text x="877.7" y="27.86" text-anchor="end" font-size="32">4</text>
<text x="914.9" y="374.7" text-anchor="middle" font-size="36">0</text>
<text x="964.38" y="374.7" text-anchor="middle" font-size="36">6</text>
<text x="1013.86" y="374.7" text-anchor="middle" font-size="36">12</text>
<text x="1063.35" y="374.7" text-anchor="middle" font-size="36">18</text>
<text x="1112.83" y="374.7" text-anchor="middle" font-size="36">24</text>
<text x="1162.31" y="374.7" text-anchor="middle" font-size="36">30</text>
<text x="1211.79" y="374.7" text-anchor="middle" font-size="36">36</text>
<text x="1261.27" y="374.7" text-anchor="middle" font-size="36">42</text>
<text x="1310.75" y="374.7" text-anchor="middle" font-size="36">48</text>
<text x="1360.24" y="374.7" text-anchor="middle" font-size="36">54</text>
<text x="1409.72" y="374.7" text-anchor="middle" font-size="36">60</text>
<text x="1459.2" y="374.7" text-anchor="middle" font-size="36">66</text>
<text x="1487.1" y="374.7" font-size="36">(h)</text>
<text x="1195.1" y="408.9" text-anchor="middle" font-size="39">Time in LL</text>
<text transform="translate(824.7 174.9) rotate(-90)" text-anchor="middle" font-size="38" font-style="italic">TOC1 / PP2a</text>
<text x="780.15" y="42" font-size="59">f</text>
</g>
<g>
<polyline points="908.14,789 957.97,673.6 1007.8,699.42 1057.63,780.12 1107.46,781.74 1157.29,724.44 1207.11,678.44 1256.94,779.32 1306.77,776.09 1356.6,680.05 1406.43,707.49 1456.26,772.05" fill="none" stroke="#000" stroke-width="2.5" stroke-linejoin="miter"/>
<polyline points="908.14,787.39 957.97,676.02 1007.8,600.16 1057.63,776.89 1107.46,775.28 1157.29,730.9 1207.11,551.74 1256.94,764.79 1306.77,775.28 1356.6,741.39 1406.43,560.62 1456.26,729.28" fill="none" stroke="#f00" stroke-width="2.5" stroke-linejoin="miter"/>
<path d="M957.97 667.95V688.12M1007.8 670.37V728.48M1157.29 719.6V729.28M1207.11 655.85V702.65M1306.77 772.05V780.12M1356.6 659.07V701.84M1406.43 692.16V722.83M1456.26 769.63V774.47M957.97 655.04V691.35M1007.8 565.46V636.48M1157.29 727.67V735.74M1207.11 508.97V595.32M1256.94 763.18V766.4M1356.6 735.74V747.84M1406.43 524.3V599.36M1456.26 725.25V735.74" stroke="#000" stroke-width="2.7" fill="none"/>
<path d="M949.17 667.95H966.77M949.17 688.12H966.77M999 670.37H1016.6M999 728.48H1016.6M1148.49 719.6H1166.09M1148.49 729.28H1166.09M1198.31 655.85H1215.91M1198.31 702.65H1215.91M1297.97 772.05H1315.57M1297.97 780.12H1315.57M1347.8 659.07H1365.4M1347.8 701.84H1365.4M1397.63 692.16H1415.23M1397.63 722.83H1415.23M1447.46 769.63H1465.06M1447.46 774.47H1465.06M949.17 655.04H966.77M949.17 691.35H966.77M999 565.46H1016.6M999 636.48H1016.6M1148.49 727.67H1166.09M1148.49 735.74H1166.09M1198.31 508.97H1215.91M1198.31 595.32H1215.91M1248.14 763.18H1265.74M1248.14 766.4H1265.74M1347.8 735.74H1365.4M1347.8 747.84H1365.4M1397.63 524.3H1415.23M1397.63 599.36H1415.23M1447.46 725.25H1465.06M1447.46 735.74H1465.06" stroke="#000" stroke-width="2.5" fill="none"/>
<path d="M898.84 789L908.14 780.5L917.44 789L908.14 797.5Z" fill="#000"/>
<path d="M948.67 673.6L957.97 665.1L967.27 673.6L957.97 682.1Z" fill="#000"/>
<path d="M998.5 699.42L1007.8 690.92L1017.1 699.42L1007.8 707.92Z" fill="#000"/>
<path d="M1048.33 780.12L1057.63 771.62L1066.93 780.12L1057.63 788.62Z" fill="#000"/>
<path d="M1098.16 781.74L1107.46 773.24L1116.76 781.74L1107.46 790.24Z" fill="#000"/>
<path d="M1147.99 724.44L1157.29 715.94L1166.59 724.44L1157.29 732.94Z" fill="#000"/>
<path d="M1197.81 678.44L1207.11 669.94L1216.41 678.44L1207.11 686.94Z" fill="#000"/>
<path d="M1247.64 779.32L1256.94 770.82L1266.24 779.32L1256.94 787.82Z" fill="#000"/>
<path d="M1297.47 776.09L1306.77 767.59L1316.07 776.09L1306.77 784.59Z" fill="#000"/>
<path d="M1347.3 680.05L1356.6 671.55L1365.9 680.05L1356.6 688.55Z" fill="#000"/>
<path d="M1397.13 707.49L1406.43 698.99L1415.73 707.49L1406.43 715.99Z" fill="#000"/>
<path d="M1446.96 772.05L1456.26 763.55L1465.56 772.05L1456.26 780.55Z" fill="#000"/>
<ellipse cx="908.14" cy="787.39" rx="8.1" ry="7.5" fill="#f00"/>
<ellipse cx="957.97" cy="676.02" rx="8.1" ry="7.5" fill="#f00"/>
<ellipse cx="1007.8" cy="600.16" rx="8.1" ry="7.5" fill="#f00"/>
<ellipse cx="1057.63" cy="776.89" rx="8.1" ry="7.5" fill="#f00"/>
<ellipse cx="1107.46" cy="775.28" rx="8.1" ry="7.5" fill="#f00"/>
<ellipse cx="1157.29" cy="730.9" rx="8.1" ry="7.5" fill="#f00"/>
<ellipse cx="1207.11" cy="551.74" rx="8.1" ry="7.5" fill="#f00"/>
<ellipse cx="1256.94" cy="764.79" rx="8.1" ry="7.5" fill="#f00"/>
<ellipse cx="1306.77" cy="775.28" rx="8.1" ry="7.5" fill="#f00"/>
<ellipse cx="1356.6" cy="741.39" rx="8.1" ry="7.5" fill="#f00"/>
<ellipse cx="1406.43" cy="560.62" rx="8.1" ry="7.5" fill="#f00"/>
<ellipse cx="1456.26" cy="729.28" rx="8.1" ry="7.5" fill="#f00"/>
<path d="M884.9 749.16H892.25M884.9 708.83H892.25M884.9 668.49H892.25M884.9 628.15H892.25M884.9 587.81H892.25M884.9 547.48H892.25M884.9 507.14H892.25M934.58 789.5V782.15M984.27 789.5V782.15M1033.95 789.5V782.15M1083.63 789.5V782.15M1133.32 789.5V782.15M1183 789.5V782.15M1232.68 789.5V782.15M1282.37 789.5V782.15M1332.05 789.5V782.15M1381.73 789.5V782.15M1431.42 789.5V782.15" stroke="#000" stroke-width="6.1" fill="none"/>
<rect x="884.9" y="466.8" width="596.2" height="322.7" fill="none" stroke="#000" stroke-width="6.1"/>
<text x="876.9" y="800.96" text-anchor="end" font-size="32">0</text>
<text x="876.9" y="760.62" text-anchor="end" font-size="32">0.5</text>
<text x="876.9" y="720.28" text-anchor="end" font-size="32">1</text>
<text x="876.9" y="679.94" text-anchor="end" font-size="32">1.5</text>
<text x="876.9" y="639.61" text-anchor="end" font-size="32">2</text>
<text x="876.9" y="599.27" text-anchor="end" font-size="32">2.5</text>
<text x="876.9" y="558.93" text-anchor="end" font-size="32">3</text>
<text x="876.9" y="518.59" text-anchor="end" font-size="32">3.5</text>
<text x="876.9" y="478.26" text-anchor="end" font-size="32">4</text>
<text x="908.5" y="824.9" text-anchor="middle" font-size="36">0</text>
<text x="958.28" y="824.9" text-anchor="middle" font-size="36">6</text>
<text x="1008.06" y="824.9" text-anchor="middle" font-size="36">12</text>
<text x="1057.85" y="824.9" text-anchor="middle" font-size="36">18</text>
<text x="1107.63" y="824.9" text-anchor="middle" font-size="36">24</text>
<text x="1157.41" y="824.9" text-anchor="middle" font-size="36">30</text>
<text x="1207.19" y="824.9" text-anchor="middle" font-size="36">36</text>
<text x="1256.97" y="824.9" text-anchor="middle" font-size="36">42</text>
<text x="1306.75" y="824.9" text-anchor="middle" font-size="36">48</text>
<text x="1356.54" y="824.9" text-anchor="middle" font-size="36">54</text>
<text x="1406.32" y="824.9" text-anchor="middle" font-size="36">60</text>
<text x="1456.1" y="824.9" text-anchor="middle" font-size="36">66</text>
<text x="1484.3" y="824.9" font-size="36">(h)</text>
<text x="1197.65" y="859.5" text-anchor="middle" font-size="39">Time in LL</text>
<text transform="translate(823.4 627.6) rotate(-90)" text-anchor="middle" font-size="38" font-style="italic">GI / PP2a</text>
<text x="769.5" y="484.5" font-size="59">g</text>
</g>
<g>
<polyline points="908.65,1158.43 958.44,1180.09 1008.23,1020.84 1058.02,1056.51 1107.81,1169.9 1157.6,1168.63 1207.4,1045.05 1257.19,1087.09 1306.98,1171.17 1356.77,1139.32 1406.56,1069.25 1456.35,1085.82" fill="none" stroke="#000" stroke-width="2.5" stroke-linejoin="miter"/>
<polyline points="908.65,1181.37 958.44,1196.65 1008.23,1027.21 1058.02,1050.14 1107.81,1157.16 1157.6,1187.74 1207.4,1080.72 1257.19,1070.53 1306.98,1141.87 1356.77,1185.19 1406.56,1096.01 1456.35,1069.25" fill="none" stroke="#f00" stroke-width="2.5" stroke-linejoin="miter"/>
<path d="M958.44 1176.27V1183.91M1008.23 988.99V1052.69M1058.02 1042.5V1070.53M1107.81 1166.08V1173.72M1207.4 1032.31V1057.79M1257.19 1078.17V1093.46M1306.98 1159.71V1186.46M1356.77 1132.95V1145.69M1406.56 1066.71V1071.8M1456.35 1079.45V1092.19M908.65 1176.27V1186.46M958.44 1194.11V1199.2M1008.23 992.81V1061.61M1058.02 1033.58V1066.71M1107.81 1149.52V1164.8M1157.6 1185.19V1190.28M1207.4 1032.31V1130.41M1257.19 1048.87V1092.19M1306.98 1124.04V1159.71M1356.77 1175V1196.65M1406.56 1064.16V1129.13M1456.35 1041.23V1101.1" stroke="#000" stroke-width="2.7" fill="none"/>
<path d="M949.64 1176.27H967.24M949.64 1183.91H967.24M999.43 988.99H1017.03M999.43 1052.69H1017.03M1049.22 1042.5H1066.82M1049.22 1070.53H1066.82M1099.01 1166.08H1116.61M1099.01 1173.72H1116.61M1198.6 1032.31H1216.2M1198.6 1057.79H1216.2M1248.39 1078.17H1265.99M1248.39 1093.46H1265.99M1298.18 1159.71H1315.78M1298.18 1186.46H1315.78M1347.97 1132.95H1365.57M1347.97 1145.69H1365.57M1397.76 1066.71H1415.36M1397.76 1071.8H1415.36M1447.55 1079.45H1465.15M1447.55 1092.19H1465.15M899.85 1176.27H917.45M899.85 1186.46H917.45M949.64 1194.11H967.24M949.64 1199.2H967.24M999.43 992.81H1017.03M999.43 1061.61H1017.03M1049.22 1033.58H1066.82M1049.22 1066.71H1066.82M1099.01 1149.52H1116.61M1099.01 1164.8H1116.61M1148.8 1185.19H1166.4M1148.8 1190.28H1166.4M1198.6 1032.31H1216.2M1198.6 1130.41H1216.2M1248.39 1048.87H1265.99M1248.39 1092.19H1265.99M1298.18 1124.04H1315.78M1298.18 1159.71H1315.78M1347.97 1175H1365.57M1347.97 1196.65H1365.57M1397.76 1064.16H1415.36M1397.76 1129.13H1415.36M1447.55 1041.23H1465.15M1447.55 1101.1H1465.15" stroke="#000" stroke-width="2.5" fill="none"/>
<path d="M899.35 1158.43L908.65 1149.93L917.95 1158.43L908.65 1166.93Z" fill="#000"/>
<path d="M949.14 1180.09L958.44 1171.59L967.74 1180.09L958.44 1188.59Z" fill="#000"/>
<path d="M998.93 1020.84L1008.23 1012.34L1017.53 1020.84L1008.23 1029.34Z" fill="#000"/>
<path d="M1048.72 1056.51L1058.02 1048.01L1067.32 1056.51L1058.02 1065.01Z" fill="#000"/>
<path d="M1098.51 1169.9L1107.81 1161.4L1117.11 1169.9L1107.81 1178.4Z" fill="#000"/>
<path d="M1148.3 1168.63L1157.6 1160.13L1166.9 1168.63L1157.6 1177.13Z" fill="#000"/>
<path d="M1198.1 1045.05L1207.4 1036.55L1216.7 1045.05L1207.4 1053.55Z" fill="#000"/>
<path d="M1247.89 1087.09L1257.19 1078.59L1266.49 1087.09L1257.19 1095.59Z" fill="#000"/>
<path d="M1297.68 1171.17L1306.98 1162.67L1316.28 1171.17L1306.98 1179.67Z" fill="#000"/>
<path d="M1347.47 1139.32L1356.77 1130.82L1366.07 1139.32L1356.77 1147.82Z" fill="#000"/>
<path d="M1397.26 1069.25L1406.56 1060.75L1415.86 1069.25L1406.56 1077.75Z" fill="#000"/>
<path d="M1447.05 1085.82L1456.35 1077.32L1465.65 1085.82L1456.35 1094.32Z" fill="#000"/>
<ellipse cx="908.65" cy="1181.37" rx="8.1" ry="7.5" fill="#f00"/>
<ellipse cx="958.44" cy="1196.65" rx="8.1" ry="7.5" fill="#f00"/>
<ellipse cx="1008.23" cy="1027.21" rx="8.1" ry="7.5" fill="#f00"/>
<ellipse cx="1058.02" cy="1050.14" rx="8.1" ry="7.5" fill="#f00"/>
<ellipse cx="1107.81" cy="1157.16" rx="8.1" ry="7.5" fill="#f00"/>
<ellipse cx="1157.6" cy="1187.74" rx="8.1" ry="7.5" fill="#f00"/>
<ellipse cx="1207.4" cy="1080.72" rx="8.1" ry="7.5" fill="#f00"/>
<ellipse cx="1257.19" cy="1070.53" rx="8.1" ry="7.5" fill="#f00"/>
<ellipse cx="1306.98" cy="1141.87" rx="8.1" ry="7.5" fill="#f00"/>
<ellipse cx="1356.77" cy="1185.19" rx="8.1" ry="7.5" fill="#f00"/>
<ellipse cx="1406.56" cy="1096.01" rx="8.1" ry="7.5" fill="#f00"/>
<ellipse cx="1456.35" cy="1069.25" rx="8.1" ry="7.5" fill="#f00"/>
<path d="M884.9 1169.9H892.25M884.9 1106.2H892.25M884.9 1042.5H892.25M884.9 978.8H892.25M934.59 1233.6V1226.25M984.28 1233.6V1226.25M1033.97 1233.6V1226.25M1083.67 1233.6V1226.25M1133.36 1233.6V1226.25M1183.05 1233.6V1226.25M1232.74 1233.6V1226.25M1282.43 1233.6V1226.25M1332.12 1233.6V1226.25M1381.82 1233.6V1226.25M1431.51 1233.6V1226.25" stroke="#000" stroke-width="6.1" fill="none"/>
<rect x="884.9" y="915.1" width="596.3" height="318.5" fill="none" stroke="#000" stroke-width="6.1"/>
<text x="874.4" y="1250.86" text-anchor="end" font-size="32">0</text>
<text x="874.4" y="1187.16" text-anchor="end" font-size="32">0.5</text>
<text x="874.4" y="1123.46" text-anchor="end" font-size="32">1</text>
<text x="874.4" y="1059.76" text-anchor="end" font-size="32">1.5</text>
<text x="874.4" y="996.06" text-anchor="end" font-size="32">2</text>
<text x="874.4" y="932.36" text-anchor="end" font-size="32">2.5</text>
<text x="912.9" y="1271.1" text-anchor="middle" font-size="36">0</text>
<text x="962.86" y="1271.1" text-anchor="middle" font-size="36">6</text>
<text x="1012.83" y="1271.1" text-anchor="middle" font-size="36">12</text>
<text x="1062.79" y="1271.1" text-anchor="middle" font-size="36">18</text>
<text x="1112.75" y="1271.1" text-anchor="middle" font-size="36">24</text>
<text x="1162.72" y="1271.1" text-anchor="middle" font-size="36">30</text>
<text x="1212.68" y="1271.1" text-anchor="middle" font-size="36">36</text>
<text x="1262.65" y="1271.1" text-anchor="middle" font-size="36">42</text>
<text x="1312.61" y="1271.1" text-anchor="middle" font-size="36">48</text>
<text x="1362.57" y="1271.1" text-anchor="middle" font-size="36">54</text>
<text x="1412.54" y="1271.1" text-anchor="middle" font-size="36">60</text>
<text x="1462.5" y="1271.1" text-anchor="middle" font-size="36">66</text>
<text x="1490.2" y="1271.1" font-size="36">(h)</text>
<text x="1191.55" y="1308" text-anchor="middle" font-size="39">Time in LL</text>
<text transform="translate(827.2 1076.55) rotate(-90)" text-anchor="middle" font-size="38" font-style="italic">ELF3 / PP2a</text>
<text x="772" y="932.5" font-size="59">h</text>
</g>
<g>
<polyline points="907.87,1689.9 957.72,1684.26 1007.57,1443.72 1057.42,1606.23 1107.27,1678.63 1157.12,1679.44 1206.98,1520.95 1256.83,1623.93 1306.68,1672.2 1356.53,1661.74 1406.38,1576.46 1456.23,1613.47" fill="none" stroke="#000" stroke-width="2.5" stroke-linejoin="miter"/>
<polyline points="907.87,1689.09 957.72,1683.46 1007.57,1406.71 1057.42,1602.21 1107.27,1677.83 1157.12,1681.85 1206.98,1513.71 1256.83,1612.66 1306.68,1668.17 1356.53,1675.41 1406.38,1591.75 1456.23,1591.75" fill="none" stroke="#f00" stroke-width="2.5" stroke-linejoin="miter"/>
<path d="M1007.57 1389.82V1497.62M1057.42 1594.96V1613.47M1157.12 1677.02V1681.85M1206.98 1494.4V1546.69M1306.68 1660.13V1674.61M1356.53 1658.52V1664.96M1406.38 1570.03V1582.9M1456.23 1611.05V1615.88M1007.57 1399.47V1414.76M1057.42 1598.18V1606.23M1206.98 1467.85V1559.57M1256.83 1608.64V1615.08M1356.53 1673V1677.83M1406.38 1562.78V1623.93M1456.23 1577.27V1606.23" stroke="#000" stroke-width="2.7" fill="none"/>
<path d="M998.77 1389.82H1016.37M998.77 1497.62H1016.37M1048.62 1594.96H1066.22M1048.62 1613.47H1066.22M1148.32 1677.02H1165.92M1148.32 1681.85H1165.92M1198.18 1494.4H1215.78M1198.18 1546.69H1215.78M1297.88 1660.13H1315.48M1297.88 1674.61H1315.48M1347.73 1658.52H1365.33M1347.73 1664.96H1365.33M1397.58 1570.03H1415.18M1397.58 1582.9H1415.18M1447.43 1611.05H1465.03M1447.43 1615.88H1465.03M998.77 1399.47H1016.37M998.77 1414.76H1016.37M1048.62 1598.18H1066.22M1048.62 1606.23H1066.22M1198.18 1467.85H1215.78M1198.18 1559.57H1215.78M1248.03 1608.64H1265.63M1248.03 1615.08H1265.63M1347.73 1673H1365.33M1347.73 1677.83H1365.33M1397.58 1562.78H1415.18M1397.58 1623.93H1415.18M1447.43 1577.27H1465.03M1447.43 1606.23H1465.03" stroke="#000" stroke-width="2.5" fill="none"/>
<path d="M898.57 1689.9L907.87 1681.4L917.17 1689.9L907.87 1698.4Z" fill="#000"/>
<path d="M948.42 1684.26L957.72 1675.76L967.02 1684.26L957.72 1692.76Z" fill="#000"/>
<path d="M998.27 1443.72L1007.57 1435.22L1016.87 1443.72L1007.57 1452.22Z" fill="#000"/>
<path d="M1048.12 1606.23L1057.42 1597.73L1066.72 1606.23L1057.42 1614.73Z" fill="#000"/>
<path d="M1097.97 1678.63L1107.27 1670.13L1116.57 1678.63L1107.27 1687.13Z" fill="#000"/>
<path d="M1147.82 1679.44L1157.12 1670.94L1166.42 1679.44L1157.12 1687.94Z" fill="#000"/>
<path d="M1197.68 1520.95L1206.98 1512.45L1216.28 1520.95L1206.98 1529.45Z" fill="#000"/>
<path d="M1247.53 1623.93L1256.83 1615.43L1266.13 1623.93L1256.83 1632.43Z" fill="#000"/>
<path d="M1297.38 1672.2L1306.68 1663.7L1315.98 1672.2L1306.68 1680.7Z" fill="#000"/>
<path d="M1347.23 1661.74L1356.53 1653.24L1365.83 1661.74L1356.53 1670.24Z" fill="#000"/>
<path d="M1397.08 1576.46L1406.38 1567.96L1415.68 1576.46L1406.38 1584.96Z" fill="#000"/>
<path d="M1446.93 1613.47L1456.23 1604.97L1465.53 1613.47L1456.23 1621.97Z" fill="#000"/>
<ellipse cx="907.87" cy="1689.09" rx="8.1" ry="7.5" fill="#f00"/>
<ellipse cx="957.72" cy="1683.46" rx="8.1" ry="7.5" fill="#f00"/>
<ellipse cx="1007.57" cy="1406.71" rx="8.1" ry="7.5" fill="#f00"/>
<ellipse cx="1057.42" cy="1602.21" rx="8.1" ry="7.5" fill="#f00"/>
<ellipse cx="1107.27" cy="1677.83" rx="8.1" ry="7.5" fill="#f00"/>
<ellipse cx="1157.12" cy="1681.85" rx="8.1" ry="7.5" fill="#f00"/>
<ellipse cx="1206.98" cy="1513.71" rx="8.1" ry="7.5" fill="#f00"/>
<ellipse cx="1256.83" cy="1612.66" rx="8.1" ry="7.5" fill="#f00"/>
<ellipse cx="1306.68" cy="1668.17" rx="8.1" ry="7.5" fill="#f00"/>
<ellipse cx="1356.53" cy="1675.41" rx="8.1" ry="7.5" fill="#f00"/>
<ellipse cx="1406.38" cy="1591.75" rx="8.1" ry="7.5" fill="#f00"/>
<ellipse cx="1456.23" cy="1591.75" rx="8.1" ry="7.5" fill="#f00"/>
<path d="M884.2 1650.78H891.55M884.2 1610.55H891.55M884.2 1570.33H891.55M884.2 1530.1H891.55M884.2 1489.88H891.55M884.2 1449.65H891.55M884.2 1409.43H891.55M933.94 1691V1683.65M983.68 1691V1683.65M1033.42 1691V1683.65M1083.17 1691V1683.65M1132.91 1691V1683.65M1182.65 1691V1683.65M1232.39 1691V1683.65M1282.13 1691V1683.65M1331.88 1691V1683.65M1381.62 1691V1683.65M1431.36 1691V1683.65" stroke="#000" stroke-width="6.1" fill="none"/>
<rect x="884.2" y="1369.2" width="596.9" height="321.8" fill="none" stroke="#000" stroke-width="6.1"/>
<text x="869.8" y="1702.46" text-anchor="end" font-size="32">0</text>
<text x="869.8" y="1662.23" text-anchor="end" font-size="32">0.5</text>
<text x="869.8" y="1622.01" text-anchor="end" font-size="32">1</text>
<text x="869.8" y="1581.78" text-anchor="end" font-size="32">1.5</text>
<text x="869.8" y="1541.56" text-anchor="end" font-size="32">2</text>
<text x="869.8" y="1501.33" text-anchor="end" font-size="32">2.5</text>
<text x="869.8" y="1461.11" text-anchor="end" font-size="32">3</text>
<text x="869.8" y="1420.88" text-anchor="end" font-size="32">3.5</text>
<text x="869.8" y="1380.66" text-anchor="end" font-size="32">4</text>
<text x="910" y="1726.8" text-anchor="middle" font-size="36">0</text>
<text x="959.32" y="1726.8" text-anchor="middle" font-size="36">6</text>
<text x="1008.64" y="1726.8" text-anchor="middle" font-size="36">12</text>
<text x="1057.95" y="1726.8" text-anchor="middle" font-size="36">18</text>
<text x="1107.27" y="1726.8" text-anchor="middle" font-size="36">24</text>
<text x="1156.59" y="1726.8" text-anchor="middle" font-size="36">30</text>
<text x="1205.91" y="1726.8" text-anchor="middle" font-size="36">36</text>
<text x="1255.23" y="1726.8" text-anchor="middle" font-size="36">42</text>
<text x="1304.55" y="1726.8" text-anchor="middle" font-size="36">48</text>
<text x="1353.86" y="1726.8" text-anchor="middle" font-size="36">54</text>
<text x="1403.18" y="1726.8" text-anchor="middle" font-size="36">60</text>
<text x="1452.5" y="1726.8" text-anchor="middle" font-size="36">66</text>
<text x="1480.8" y="1726.8" font-size="36">(h)</text>
<text x="1189.2" y="1764.7" text-anchor="middle" font-size="39">Time in LL</text>
<text transform="translate(818.3 1528.65) rotate(-90)" text-anchor="middle" font-size="35" font-style="italic">ELF4 / PP2a</text>
<text x="798" y="1384.5" font-size="59">i</text>
</g>
<g>
<polyline points="907.87,2123.49 957.72,2124.83 1007.57,1989.21 1057.42,2069.99 1107.27,2126.43 1157.12,2106.91 1206.98,1938.11 1256.83,2075.88 1306.68,2113.33 1356.53,2089.25 1406.38,1982.25 1456.23,2036.82" fill="none" stroke="#000" stroke-width="2.5" stroke-linejoin="miter"/>
<polyline points="907.87,2111.99 957.72,2114.13 1007.57,1878.46 1057.42,2061.16 1107.27,2110.65 1157.12,2110.65 1206.98,1925.54 1256.83,2030.4 1306.68,2086.58 1356.53,2096.74 1406.38,1967.81 1456.23,2002.05" fill="none" stroke="#f00" stroke-width="2.5" stroke-linejoin="miter"/>
<path d="M907.87 2117.34V2129.38M957.72 2118.68V2132.05M1007.57 1901.2V2077.21M1057.42 2041.63V2098.08M1107.27 2121.35V2132.05M1157.12 2097.28V2120.01M1206.98 1875.79V2000.98M1256.83 2057.15V2094.6M1306.68 2099.95V2137.4M1356.53 2052.34V2124.83M1406.38 1936.51V2026.12M1456.23 1991.08V2083.9M907.87 2105.3V2118.68M957.72 2110.65V2118.68M1007.57 1847.43V1912.97M1057.42 2046.45V2075.88M1107.27 2099.95V2121.35M1206.98 1841.55V2009M1256.83 2018.36V2046.45M1306.68 2075.88V2099.95M1356.53 2094.6V2099.95M1406.38 1919.92V2019.17M1456.23 1990.28V2003.65" stroke="#000" stroke-width="2.7" fill="none"/>
<path d="M899.07 2117.34H916.67M899.07 2129.38H916.67M948.92 2118.68H966.52M948.92 2132.05H966.52M998.77 1901.2H1016.37M998.77 2077.21H1016.37M1048.62 2041.63H1066.22M1048.62 2098.08H1066.22M1098.47 2121.35H1116.07M1098.47 2132.05H1116.07M1148.32 2097.28H1165.92M1148.32 2120.01H1165.92M1198.18 1875.79H1215.78M1198.18 2000.98H1215.78M1248.03 2057.15H1265.63M1248.03 2094.6H1265.63M1297.88 2099.95H1315.48M1297.88 2137.4H1315.48M1347.73 2052.34H1365.33M1347.73 2124.83H1365.33M1397.58 1936.51H1415.18M1397.58 2026.12H1415.18M1447.43 1991.08H1465.03M1447.43 2083.9H1465.03M899.07 2105.3H916.67M899.07 2118.68H916.67M948.92 2110.65H966.52M948.92 2118.68H966.52M998.77 1847.43H1016.37M998.77 1912.97H1016.37M1048.62 2046.45H1066.22M1048.62 2075.88H1066.22M1098.47 2099.95H1116.07M1098.47 2121.35H1116.07M1198.18 1841.55H1215.78M1198.18 2009H1215.78M1248.03 2018.36H1265.63M1248.03 2046.45H1265.63M1297.88 2075.88H1315.48M1297.88 2099.95H1315.48M1347.73 2094.6H1365.33M1347.73 2099.95H1365.33M1397.58 1919.92H1415.18M1397.58 2019.17H1415.18M1447.43 1990.28H1465.03M1447.43 2003.65H1465.03" stroke="#000" stroke-width="2.5" fill="none"/>
<path d="M898.57 2123.49L907.87 2114.99L917.17 2123.49L907.87 2131.99Z" fill="#000"/>
<path d="M948.42 2124.83L957.72 2116.33L967.02 2124.83L957.72 2133.33Z" fill="#000"/>
<path d="M998.27 1989.21L1007.57 1980.71L1016.87 1989.21L1007.57 1997.71Z" fill="#000"/>
<path d="M1048.12 2069.99L1057.42 2061.49L1066.72 2069.99L1057.42 2078.49Z" fill="#000"/>
<path d="M1097.97 2126.43L1107.27 2117.93L1116.57 2126.43L1107.27 2134.93Z" fill="#000"/>
<path d="M1147.82 2106.91L1157.12 2098.41L1166.42 2106.91L1157.12 2115.41Z" fill="#000"/>
<path d="M1197.68 1938.11L1206.98 1929.61L1216.28 1938.11L1206.98 1946.61Z" fill="#000"/>
<path d="M1247.53 2075.88L1256.83 2067.38L1266.13 2075.88L1256.83 2084.38Z" fill="#000"/>
<path d="M1297.38 2113.33L1306.68 2104.83L1315.98 2113.33L1306.68 2121.83Z" fill="#000"/>
<path d="M1347.23 2089.25L1356.53 2080.75L1365.83 2089.25L1356.53 2097.75Z" fill="#000"/>
<path d="M1397.08 1982.25L1406.38 1973.75L1415.68 1982.25L1406.38 1990.75Z" fill="#000"/>
<path d="M1446.93 2036.82L1456.23 2028.32L1465.53 2036.82L1456.23 2045.32Z" fill="#000"/>
<ellipse cx="907.87" cy="2111.99" rx="8.1" ry="7.5" fill="#f00"/>
<ellipse cx="957.72" cy="2114.13" rx="8.1" ry="7.5" fill="#f00"/>
<ellipse cx="1007.57" cy="1878.46" rx="8.1" ry="7.5" fill="#f00"/>
<ellipse cx="1057.42" cy="2061.16" rx="8.1" ry="7.5" fill="#f00"/>
<ellipse cx="1107.27" cy="2110.65" rx="8.1" ry="7.5" fill="#f00"/>
<ellipse cx="1157.12" cy="2110.65" rx="8.1" ry="7.5" fill="#f00"/>
<ellipse cx="1206.98" cy="1925.54" rx="8.1" ry="7.5" fill="#f00"/>
<ellipse cx="1256.83" cy="2030.4" rx="8.1" ry="7.5" fill="#f00"/>
<ellipse cx="1306.68" cy="2086.58" rx="8.1" ry="7.5" fill="#f00"/>
<ellipse cx="1356.53" cy="2096.74" rx="8.1" ry="7.5" fill="#f00"/>
<ellipse cx="1406.38" cy="1967.81" rx="8.1" ry="7.5" fill="#f00"/>
<ellipse cx="1456.23" cy="2002.05" rx="8.1" ry="7.5" fill="#f00"/>
<path d="M884.2 2085.27H891.55M884.2 2031.53H891.55M884.2 1977.8H891.55M884.2 1924.07H891.55M884.2 1870.33H891.55M933.94 2139V2131.65M983.68 2139V2131.65M1033.42 2139V2131.65M1083.17 2139V2131.65M1132.91 2139V2131.65M1182.65 2139V2131.65M1232.39 2139V2131.65M1282.13 2139V2131.65M1331.88 2139V2131.65M1381.62 2139V2131.65M1431.36 2139V2131.65" stroke="#000" stroke-width="6.1" fill="none"/>
<rect x="884.2" y="1816.6" width="596.9" height="322.4" fill="none" stroke="#000" stroke-width="6.1"/>
<text x="873.5" y="2148.96" text-anchor="end" font-size="32">0</text>
<text x="873.5" y="2095.22" text-anchor="end" font-size="32">0.2</text>
<text x="873.5" y="2041.49" text-anchor="end" font-size="32">0.4</text>
<text x="873.5" y="1987.76" text-anchor="end" font-size="32">0.6</text>
<text x="873.5" y="1934.02" text-anchor="end" font-size="32">0.8</text>
<text x="873.5" y="1880.29" text-anchor="end" font-size="32">1</text>
<text x="873.5" y="1826.56" text-anchor="end" font-size="32">1.2</text>
<text x="908.5" y="2172.8" text-anchor="middle" font-size="36">0</text>
<text x="957.82" y="2172.8" text-anchor="middle" font-size="36">6</text>
<text x="1007.14" y="2172.8" text-anchor="middle" font-size="36">12</text>
<text x="1056.45" y="2172.8" text-anchor="middle" font-size="36">18</text>
<text x="1105.77" y="2172.8" text-anchor="middle" font-size="36">24</text>
<text x="1155.09" y="2172.8" text-anchor="middle" font-size="36">30</text>
<text x="1204.41" y="2172.8" text-anchor="middle" font-size="36">36</text>
<text x="1253.73" y="2172.8" text-anchor="middle" font-size="36">42</text>
<text x="1303.05" y="2172.8" text-anchor="middle" font-size="36">48</text>
<text x="1352.36" y="2172.8" text-anchor="middle" font-size="36">54</text>
<text x="1401.68" y="2172.8" text-anchor="middle" font-size="36">60</text>
<text x="1451" y="2172.8" text-anchor="middle" font-size="36">66</text>
<text x="1479.2" y="2172.8" font-size="36">(h)</text>
<text x="1187.9" y="2210.2" text-anchor="middle" font-size="39">Time in LL</text>
<text transform="translate(819.2 1977.8) rotate(-90)" text-anchor="middle" font-size="34.7" font-style="italic">LUX / PP2a</text>
<text x="784.6" y="1833" font-size="59">j</text>
</g>
<path d="M1105 2244.4H1197.6" stroke="#000" stroke-width="2.6"/>
<path d="M1141 2245.8L1153.3 2232.8L1165.6 2245.8L1153.3 2258.8Z" fill="#000"/>
<path d="M1105 2287.9H1197.6" stroke="#f00" stroke-width="2.6"/>
<ellipse cx="1152.4" cy="2286.8" rx="11" ry="11.5" fill="#f00"/>
<text x="1210" y="2256.2" font-size="39">Col</text>
<text x="1211" y="2297.6" font-size="38.4" font-style="italic">uch1/uch2/uch3</text>
</svg>
</body></html>
